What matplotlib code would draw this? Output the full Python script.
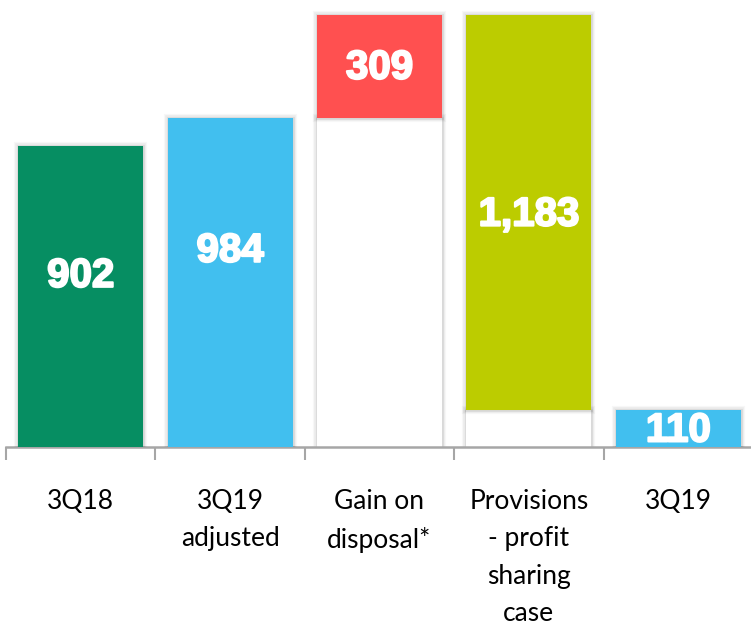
import matplotlib.pyplot as plt
import matplotlib.patheffects as pe

categories = ['3Q18', '3Q19\nadjusted', 'Gain on\ndisposal*', 'Provisions\n- profit\nsharing\ncase', '3Q19']
values = [902, 984, 309, -1183, 110]
value_labels = ['902', '984', '309', '1,183', '110']
colors = ['#068e62', '#41bfef', '#ff5050', '#bccc00', '#41bfef']

# waterfall: bases for the floating bars
bottoms = [0, 0, 984, 110, 0]
heights = [902, 984, 309, 1183, 110]
white_bases = [0, 0, 984, 110, 0]

# where the value label sits inside each bar (fraction of height)
label_frac = [0.568, 0.597, 0.49, 0.495, 0.45]

fig = plt.figure(figsize=(7.51, 6.28), dpi=100)
ax = fig.add_axes([6 / 751, 181 / 628, 747 / 751, 447 / 628])

# soft shadow round the bars
shadow = [pe.Stroke(linewidth=6, foreground='black', alpha=0.03),
          pe.Stroke(linewidth=4, foreground='black', alpha=0.05),
          pe.Stroke(linewidth=2, foreground='black', alpha=0.07),
          pe.Normal()]

x = range(len(categories))
width = 0.837

# white support bars under the floating ones
ax.bar(x, white_bases, width=width, color='white', zorder=2, path_effects=shadow)
bars = ax.bar(x, heights, bottom=bottoms, width=width, color=colors, zorder=3,
              path_effects=shadow)

for i, b in enumerate(bars):
    ycen = bottoms[i] + heights[i] * label_frac[i]
    ax.text(b.get_x() + b.get_width() / 2, ycen, value_labels[i], ha='center', va='center',
            color='white', fontsize=29, fontweight='bold', family='Liberation Sans', zorder=4,
            path_effects=[pe.withStroke(linewidth=1.5, foreground='white')])

ax.set_xlim(-0.5, 4.5)
ax.set_ylim(0, 1338)
ax.set_yticks([])
for s in ['top', 'right', 'left']:
    ax.spines[s].set_visible(False)
ax.spines['bottom'].set_color('#a6a6a6')
ax.spines['bottom'].set_linewidth(1.8)
ax.set_xticks([i - 0.5 for i in range(len(categories) + 1)])
ax.set_xticklabels([])
ax.tick_params(axis='x', length=9, width=1.5, color='#a6a6a6', direction='out')

for i, c in enumerate(categories):
    ax.text(i, -125, c, ha='center', va='top', fontsize=19, family='Lato',
            linespacing=1.62, color='black')

fig.savefig('out.png', dpi=100)
